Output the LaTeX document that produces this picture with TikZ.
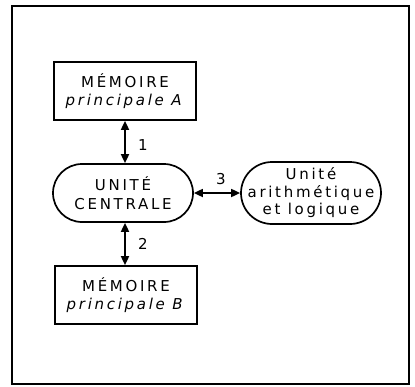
\documentclass[tikz,border=0pt]{standalone}
\usepackage{fontspec}
\setmainfont{DejaVu Sans}[LetterSpace=18]
\usetikzlibrary{arrows.meta}
\tikzset{
  boxnode/.style={draw, line width=1.7pt, minimum width=142pt, minimum height=58pt, align=center, inner sep=0pt, font=\fontsize{15}{18.5}\selectfont},
  pillnode/.style={draw, line width=1.7pt, rounded corners=29pt, minimum width=140pt, minimum height=58pt, align=center, inner sep=0pt, font=\fontsize{15}{19}\selectfont},
  link/.style={line width=1.7pt, {Triangle[length=9pt,width=8pt]}-{Triangle[length=9pt,width=8pt]}},
  lbl/.style={font=\fontsize{15}{15}\selectfont, inner sep=0pt}
}
\begin{document}
\begin{tikzpicture}[x=1pt,y=-1pt]
\useasboundingbox (0,0) rectangle (415,386);
\draw[line width=2.6pt] (12,6) rectangle (409,384);
\node[boxnode] (A) at (125,91) {MÉMOIRE\\\textit{principale A}};
\node[pillnode] (C) at (123,193) {UNITÉ\\CENTRALE};
\node[pillnode, rounded corners=31pt, minimum height=62pt, font=\fontsize{15}{17.5}\selectfont] (U) at (311,193) {Unité\\arithmétique\\et logique};
\node[boxnode] (B) at (126,295) {MÉMOIRE\\\textit{principale B}};
\draw[link] (A.south -| 125,0) coordinate (a1) -- (a1 |- C.north);
\draw[link] (C.south -| 125,0) coordinate (b1) -- (b1 |- B.north);
\draw[link] (C.east) -- (U.west);
\node[lbl] (n1) at (143,145) {1};
\node[lbl] (n2) at (143,244) {2};
\node[lbl] (n3) at (221,179) {3};
\end{tikzpicture}
\end{document}
